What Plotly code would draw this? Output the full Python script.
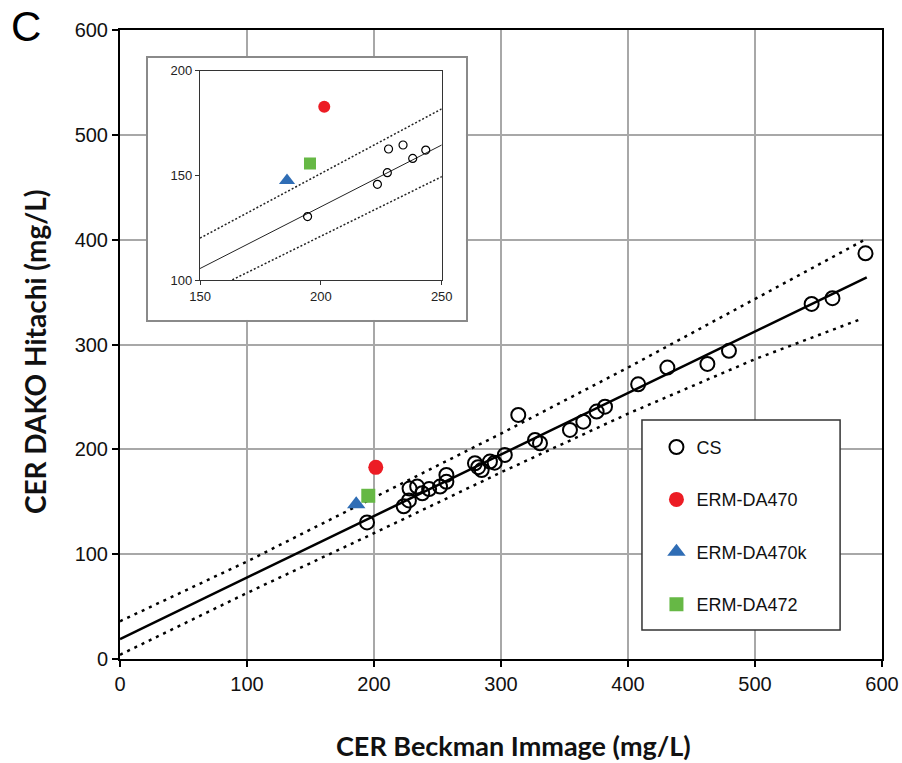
import plotly.graph_objects as go

# ---------------- data ----------------
cs_x = [194.5, 223.4, 227.5, 228.0, 234.0, 238.0, 243.4, 252.0, 257.0, 257.0,
        279.5, 282.0, 284.8, 291.3, 295.0, 303.0, 313.6, 326.8, 330.7, 354.3,
        364.8, 375.3, 381.9, 408.0, 431.0, 462.5, 479.5, 544.6, 561.0, 587.0]
cs_y = [130.3, 145.7, 151.3, 162.6, 164.5, 158.1, 162.1, 164.5, 175.6, 169.0,
        186.7, 183.0, 180.3, 188.3, 187.3, 194.7, 232.8, 209.0, 205.8, 218.5,
        226.4, 236.0, 240.7, 262.0, 278.0, 281.5, 294.0, 338.7, 344.2, 387.0]

da470_x = [201.4]
da470_y = [182.8]
da470k_x = [186.0]
da470k_y = [147.5]
da472_x = [195.5]
da472_y = [155.7]

fit_x = [0, 588]
fit_y = [19, 364]
upper_x = [0, 100, 200, 300, 400, 500, 588]
upper_y = [36, 93, 154, 215, 278, 343, 401]
lower_x = [0, 100, 200, 300, 400, 500, 585]
lower_y = [4, 63, 120, 178, 234, 286, 325]

inset_fit_x = [150, 250]
inset_fit_y = [105.5, 164.5]
inset_upper_x = [150, 252]
inset_upper_y = [120, 183]
inset_lower_x = [150, 252]
inset_lower_y = [92.5, 150.5]

main_ticks = [0, 100, 200, 300, 400, 500, 600]
inset_xticks = [150, 200, 250]
inset_yticks = [100, 150, 200]

RED = '#EC1C24'
BLUE = '#2F6DB5'
GREEN = '#66B845'
TICKFONT = dict(family='Liberation Sans, Arial', size=20, color='#111')

fig = go.Figure()

# ---- main panel ----
fig.add_trace(go.Scatter(x=upper_x, y=upper_y, mode='lines', showlegend=False,
                         line=dict(color='black', width=2.5, dash='3px,5px'), hoverinfo='skip'))
fig.add_trace(go.Scatter(x=lower_x, y=lower_y, mode='lines', showlegend=False,
                         line=dict(color='black', width=2.5, dash='3px,5px'), hoverinfo='skip'))
fig.add_trace(go.Scatter(x=fit_x, y=fit_y, mode='lines', showlegend=False,
                         line=dict(color='black', width=2.5), hoverinfo='skip'))

fig.add_trace(go.Scatter(x=cs_x, y=cs_y, mode='markers', name='CS', legendgroup='a',
                         marker=dict(symbol='circle-open', size=14, color='black',
                                     line=dict(width=2, color='black'))))
fig.add_trace(go.Scatter(x=da470_x, y=da470_y, mode='markers', name='ERM-DA470', legendgroup='b',
                         marker=dict(symbol='circle', size=15, color=RED)))
fig.add_trace(go.Scatter(x=da470k_x, y=da470k_y, mode='markers', name='ERM-DA470k', legendgroup='c',
                         marker=dict(symbol='triangle-up', size=16, color=BLUE)))
fig.add_trace(go.Scatter(x=da472_x, y=da472_y, mode='markers', name='ERM-DA472', legendgroup='d',
                         marker=dict(symbol='square', size=14, color=GREEN)))

# ---- inset frame (white panel with grey border) ----
fig.add_trace(go.Scatter(x=[], y=[], xaxis='x2', yaxis='y2', showlegend=False))

# ---- inset ----
for xs, ys, w, d in [(inset_upper_x, inset_upper_y, 1.5, '2px,2px'),
                     (inset_lower_x, inset_lower_y, 1.5, '2px,2px'),
                     (inset_fit_x, inset_fit_y, 1, 'solid')]:
    fig.add_trace(go.Scatter(x=xs, y=ys, xaxis='x3', yaxis='y3', mode='lines', showlegend=False,
                             line=dict(color='#222', width=w, dash=d), hoverinfo='skip'))
fig.add_trace(go.Scatter(x=cs_x, y=cs_y, xaxis='x3', yaxis='y3', mode='markers', showlegend=False,
                         marker=dict(symbol='circle-open', size=8, color='black',
                                     line=dict(width=1.2, color='black'))))
fig.add_trace(go.Scatter(x=da470_x, y=da470_y, xaxis='x3', yaxis='y3', mode='markers', showlegend=False,
                         marker=dict(symbol='circle', size=12, color=RED)))
fig.add_trace(go.Scatter(x=da470k_x, y=da470k_y, xaxis='x3', yaxis='y3', mode='markers', showlegend=False,
                         marker=dict(symbol='triangle-up', size=14, color=BLUE)))
fig.add_trace(go.Scatter(x=da472_x, y=da472_y, xaxis='x3', yaxis='y3', mode='markers', showlegend=False,
                         marker=dict(symbol='square', size=12, color=GREEN)))

axis_common = dict(showgrid=True, gridcolor='#a8a8a8', gridwidth=1.5, zeroline=False,
                   showline=True, linecolor='black', linewidth=2, mirror=True,
                   ticks='outside', ticklen=6, tickwidth=1.5, tickcolor='black',
                   tickfont=TICKFONT, range=[0, 600], tickvals=main_ticks, automargin=False)

inset_common = dict(showgrid=False, zeroline=False, showline=True, linecolor='#333', linewidth=1.2,
                    mirror=True, ticks='outside', ticklen=4, tickwidth=1, tickcolor='#333',
                    automargin=False,
                    tickfont=dict(family='Liberation Sans, Arial', size=13, color='#222'))

frame_common = dict(showgrid=False, zeroline=False, showline=True, linecolor='#8a8a8a', linewidth=1.5,
                    mirror=True, ticks='', showticklabels=False, range=[0, 1], fixedrange=True,
                    automargin=False)

fig.update_layout(
    width=902, height=763,
    margin=dict(l=120, r=20, t=30, b=104, autoexpand=False),
    paper_bgcolor='white', plot_bgcolor='white',
    xaxis=dict(axis_common, domain=[0, 1], anchor='y'),
    yaxis=dict(axis_common, domain=[0, 1], anchor='x'),
    xaxis2=dict(frame_common, domain=[0.0367, 0.454], anchor='y2'),
    yaxis2=dict(frame_common, domain=[0.539, 0.9555], anchor='x2'),
    xaxis3=dict(inset_common, domain=[0.105, 0.4222], anchor='y3', range=[150, 250], tickvals=inset_xticks),
    yaxis3=dict(inset_common, domain=[0.6025, 0.9353], anchor='x3', range=[100, 200], tickvals=inset_yticks),
    showlegend=True,
    legend=dict(x=0.704, y=0.366, xanchor='left', yanchor='top', bgcolor='rgba(0,0,0,0)',
                borderwidth=0, tracegroupgap=26,
                font=dict(family='Liberation Sans, Arial', size=18, color='#111')),
    shapes=[dict(type='rect', xref='paper', yref='paper', x0=0.685, x1=0.945, y0=0.046, y1=0.38,
                 line=dict(color='#333', width=1.5), fillcolor='white', layer='above')],
    annotations=[
        dict(text='C', xref='paper', yref='paper', x=-0.146, y=1.046, xanchor='left', yanchor='top',
             showarrow=False, font=dict(family='Liberation Sans, Arial', size=42, color='black')),
        dict(text='<b>CER Beckman Immage (mg/L)</b>', xref='paper', yref='paper', x=0.517, y=-0.137,
             xanchor='center', yanchor='middle', showarrow=False,
             font=dict(family='Lato', size=27, color='#111')),
        dict(text='<b>CER DAKO Hitachi (mg/L)</b>', xref='paper', yref='paper', x=-0.1115, y=0.488,
             xanchor='center', yanchor='middle', showarrow=False, textangle=-90,
             font=dict(family='Lato', size=28, color='#111')),
    ],
)

fig.write_html('out.html')
